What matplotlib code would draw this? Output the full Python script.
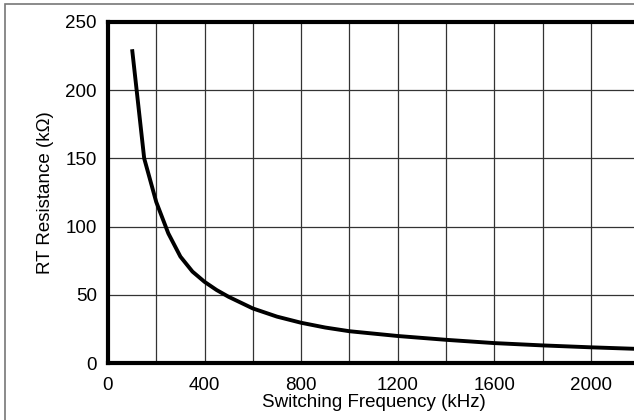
import matplotlib
matplotlib.use("Agg")
import matplotlib.pyplot as plt
from matplotlib.patches import Rectangle

# Curva RT vs frecuencia de conmutación
freq_khz = [100, 150, 200, 250, 300, 350, 400, 450, 500, 600, 700, 800, 900,
            1000, 1200, 1400, 1600, 1800, 2000, 2200]
rt_kohm = [230, 150, 118, 95, 78, 67, 59.5, 53.5, 48.5, 40, 34, 29.5, 26,
           23.3, 19.8, 17, 14.6, 12.9, 11.5, 10.3]

x_ticks = [0, 400, 800, 1200, 1600, 2000]
y_ticks = [0, 50, 100, 150, 200, 250]

plt.rcParams["font.family"] = ["Liberation Sans", "DejaVu Sans"]

fig = plt.figure(figsize=(6.34, 4.2), dpi=100)
ax = fig.add_axes([0.1703, 0.1357, 0.8297 + 0.01, 0.812])

# marco exterior gris
fig.patches.append(Rectangle((4.5 / 634, -0.01), 1.1, 1 - 4.5 / 420 + 0.01,
                             transform=fig.transFigure, fill=False,
                             edgecolor="#777777", linewidth=1.2))

ax.plot(freq_khz, rt_kohm, color="black", linewidth=2.8,
        solid_joinstyle="round", solid_capstyle="butt")

ax.set_xlim(0, 2205)
ax.set_ylim(0, 250)
ax.set_xticks(range(0, 2201, 200))
ax.set_xticklabels([str(v) if v in x_ticks else "" for v in range(0, 2201, 200)])
ax.set_yticks(y_ticks)
ax.grid(True, color="#333333", linewidth=0.9)
ax.tick_params(length=0, labelsize=13.5)
ax.tick_params(axis="x", pad=10)
ax.tick_params(axis="y", pad=8)

for side in ["left", "bottom", "top"]:
    ax.spines[side].set_linewidth(3)
ax.spines["right"].set_visible(False)

ax.set_xlabel("Switching Frequency (kHz)", fontsize=13.5, labelpad=0)
ax.set_ylabel("RT Resistance (kΩ)", fontsize=13.5, labelpad=8)

fig.savefig("out.png", dpi=100)
